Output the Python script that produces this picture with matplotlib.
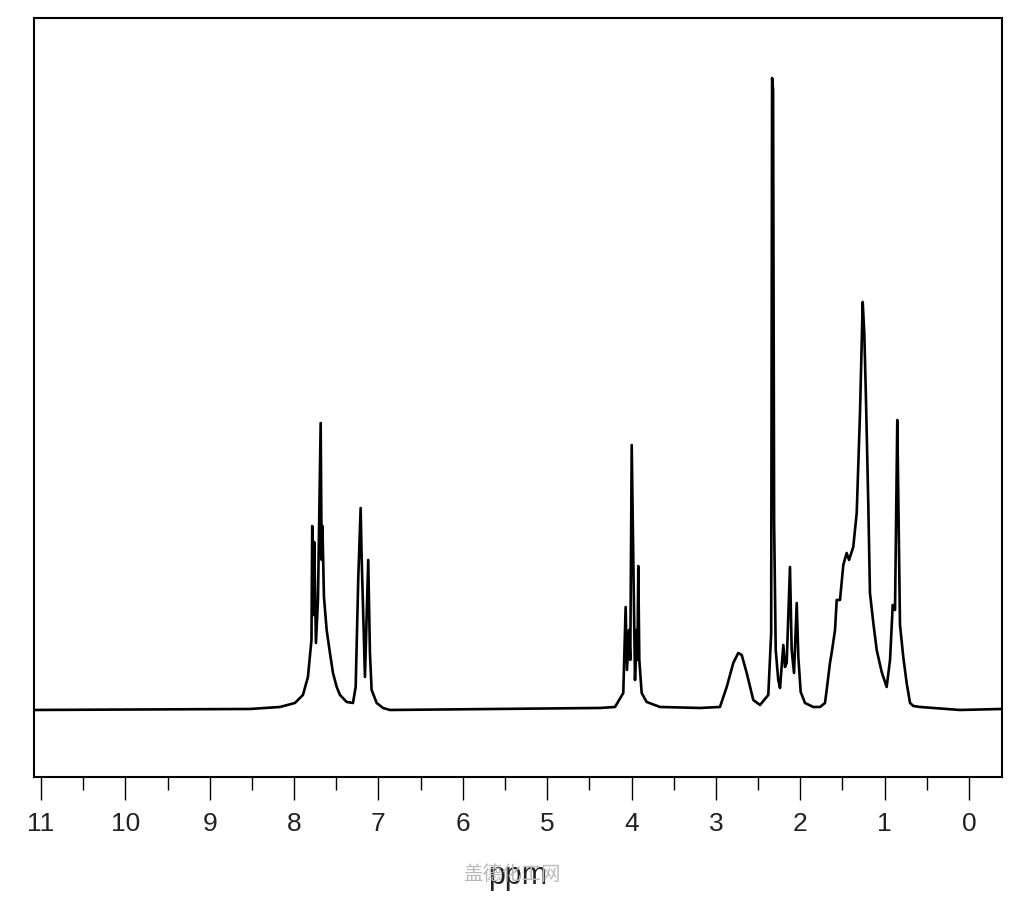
import matplotlib
matplotlib.use('Agg')
import matplotlib.pyplot as plt
from matplotlib.ticker import MultipleLocator

# 1H NMR trace (ppm, intensity in arbitrary units)
ppm = [11.083, 8.523, 8.167, 7.990, 7.895, 7.836, 7.794, 7.785, 7.773, 7.761,
       7.741, 7.717, 7.685, 7.673, 7.664, 7.646, 7.614, 7.575, 7.539, 7.495,
       7.456, 7.377, 7.302, 7.270, 7.239, 7.211, 7.199, 7.160, 7.121, 7.101,
       7.081, 7.021, 6.946, 6.863, 4.374, 4.196, 4.098, 4.070, 4.054, 4.030,
       4.015, 3.998, 3.959, 3.939, 3.930, 3.920, 3.908, 3.880, 3.821, 3.663,
       3.189, 2.952, 2.872, 2.794, 2.735, 2.694, 2.635, 2.557, 2.477, 2.379,
       2.345, 2.334, 2.322, 2.310, 2.291, 2.261, 2.240, 2.201, 2.181, 2.161,
       2.122, 2.102, 2.074, 2.042, 2.023, 1.995, 1.944, 1.846, 1.766, 1.707,
       1.687, 1.648, 1.628, 1.588, 1.568, 1.529, 1.490, 1.450, 1.422, 1.372,
       1.331, 1.292, 1.260, 1.241, 1.221, 1.194, 1.174, 1.134, 1.094, 1.035,
       0.976, 0.936, 0.904, 0.877, 0.850, 0.838, 0.818, 0.779, 0.739, 0.699,
       0.660, 0.581, 0.107, -0.391]
intensity = [0, 1, 3, 7, 15, 33, 70, 184, 95, 168,
             67, 110, 287, 150, 184, 113, 80, 57, 37, 23,
             15, 8, 7, 23, 133, 202, 152, 33, 150, 57,
             20, 7, 2, 0, 2, 3, 17, 103, 40, 80,
             50, 265, 30, 80, 50, 144, 50, 17, 8, 3,
             2, 3, 23, 47, 57, 55, 37, 10, 5, 15,
             77, 632, 620, 187, 60, 30, 22, 65, 43, 47,
             143, 60, 37, 107, 53, 18, 7, 3, 3, 7,
             20, 47, 57, 80, 110, 110, 145, 157, 150, 163,
             197, 297, 408, 377, 310, 207, 117, 87, 60, 38,
             23, 50, 105, 100, 290, 213, 85, 53, 27, 7,
             4, 3, 0, 1]

major_ticks = list(range(0, 12))
tick_labels = [str(t) for t in major_ticks]

fig = plt.figure(figsize=(10.24, 9.0), dpi=100)
ax = fig.add_axes([0.0332, 0.1367, 0.9453, 0.8433])

ax.plot(ppm, intensity, color='black', linewidth=1.9)

ax.set_xlim(11.083, -0.391)
ax.set_ylim(-67, 692)
ax.set_yticks([])
ax.set_xticks(major_ticks)
ax.set_xticklabels(tick_labels)
ax.xaxis.set_minor_locator(MultipleLocator(0.5))

font_fam = ['Liberation Sans', 'DejaVu Sans']
ax.tick_params(axis='x', which='major', direction='out', length=16.5, width=1.0,
               pad=9, labelsize=19, labelcolor='#222222')
ax.tick_params(axis='x', which='minor', direction='out', length=9.5, width=1.0)
for lab in ax.get_xticklabels():
    lab.set_family(font_fam)

for s in ax.spines.values():
    s.set_linewidth(1.5)

ax.set_xlabel('ppm', fontsize=22, family=font_fam, labelpad=18, color='#222222')

# faint watermark under the axis label
fig.text(512 / 1024, 1 - 875 / 900, '盖德化工网', fontsize=14, color='#b8b8b8',
         ha='center', va='center', family=['Noto Sans CJK SC', 'DejaVu Sans'])

fig.savefig('out.png', dpi=100)
